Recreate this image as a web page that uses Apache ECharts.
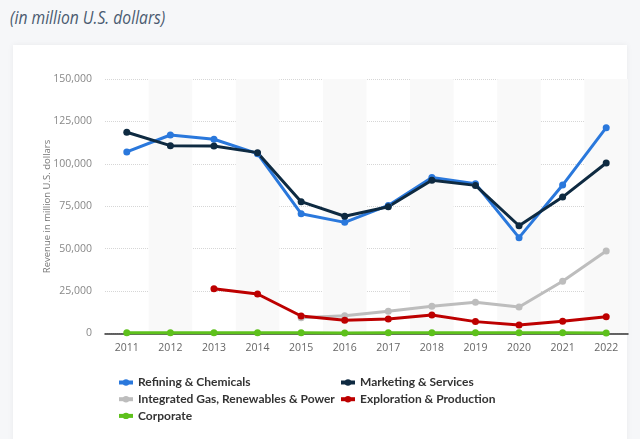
<!DOCTYPE html>
<html>
<head>
<meta charset="utf-8">
<script src="https://cdn.jsdelivr.net/npm/echarts@6/dist/echarts.min.js"></script>
<style>
  html, body { margin:0; padding:0; width:640px; height:439px; overflow:hidden; background:#f6f7f9; }
  #title { position:absolute; left:10px; top:5px; font-family:"Open Sans", sans-serif; font-style:italic; font-size:18px; color:#4a5b70; white-space:nowrap; transform:scaleX(0.87); transform-origin:0 0; }
  #card { position:absolute; left:13px; top:45px; width:614px; height:420px; background:#fff; box-shadow:0 0 6px rgba(0,0,0,0.06); }
  #chart { position:absolute; left:0; top:0; width:640px; height:439px; }
</style>
</head>
<body>
<div id="title">(in million U.S. dollars)</div>
<div id="card"></div>
<div id="chart"></div>
<script>
const years = ['2011','2012','2013','2014','2015','2016','2017','2018','2019','2020','2021','2022'];
const refining = [107000, 117000, 114500, 106000, 70600, 65500, 75500, 92000, 88300, 56500, 87500, 121300];
const marketing = [118600, 110700, 110500, 106600, 77700, 69100, 74700, 90300, 87300, 63500, 80400, 100500];
const integratedGas = [null, null, null, null, 9300, 10500, 13100, 16000, 18400, 15600, 30800, 48600];
const exploration = [null, null, 26400, 23300, 10300, 7800, 8500, 10900, 7000, 5000, 7200, 9900];
const corporate = [400, 500, 400, 400, 400, 300, 400, 400, 400, 400, 400, 300];
const yTicks = [0, 25000, 50000, 75000, 100000, 125000, 150000];
const yAxisTitle = 'Revenue in million U.S. dollars';

const seriesDefs = [
  { name: 'Refining & Chemicals', data: refining, color: '#2a78dc' },
  { name: 'Marketing & Services', data: marketing, color: '#0e2a41' },
  { name: 'Integrated Gas, Renewables & Power', data: integratedGas, color: '#bdbdbd' },
  { name: 'Exploration & Production', data: exploration, color: '#bd0000' },
  { name: 'Corporate', data: corporate, color: '#5ec11c' }
];

const chart = echarts.init(document.getElementById('chart'), null, { renderer: 'canvas' });
const legendText = { fontFamily: 'Lato, sans-serif', fontSize: 12, fontWeight: 'bold', color: '#333' };
const legendCommon = { orient: 'vertical', top: 376.5, itemWidth: 14, itemHeight: 8, itemGap: 4.7,
  lineStyle: { width: 4 }, textStyle: legendText, padding: 0 };
chart.setOption({
  backgroundColor: 'transparent',
  animation: false,
  grid: { left: 105, right: 12, top: 79, bottom: 105.5, containLabel: false },
  graphic: [{
    type: 'text', x: 47, y: 206.5, rotation: Math.PI / 2,
    style: { text: yAxisTitle, fill: '#777', font: '9.5px "Open Sans", sans-serif', align: 'center', verticalAlign: 'middle' }
  }],
  legend: [
    Object.assign({ left: 117, data: ['Refining & Chemicals', 'Integrated Gas, Renewables & Power', 'Corporate'] }, legendCommon),
    Object.assign({ left: 339, data: ['Marketing & Services', 'Exploration & Production'] }, legendCommon)
  ],
  xAxis: {
    type: 'category', data: years, boundaryGap: true,
    axisLine: { lineStyle: { color: '#333', width: 1.5 } },
    axisTick: { show: false },
    axisLabel: { color: '#666', fontFamily: 'Open Sans, sans-serif', fontSize: 10.5, margin: 9 },
    splitArea: { show: true, areaStyle: { color: ['rgba(255,255,255,0)', '#f9f9f9'] } }
  },
  yAxis: {
    type: 'value', min: 0, max: 150000, interval: 25000,
    axisLine: { show: false }, axisTick: { show: false },
    axisLabel: { color: '#888', fontFamily: 'Open Sans, sans-serif', fontSize: 10.5, margin: 13,
      formatter: v => yTicks.includes(v) ? v.toLocaleString('en-US') : '' },
    splitLine: { lineStyle: { color: '#d6d6d6', type: 'dotted', width: 1 } }
  },
  series: seriesDefs.map(s => ({
    name: s.name, type: 'line', data: s.data, connectNulls: false,
    symbol: 'circle', symbolSize: 7, showAllSymbol: true,
    lineStyle: { color: s.color, width: 3 },
    itemStyle: { color: s.color }
  }))
});
</script>
</body>
</html>
